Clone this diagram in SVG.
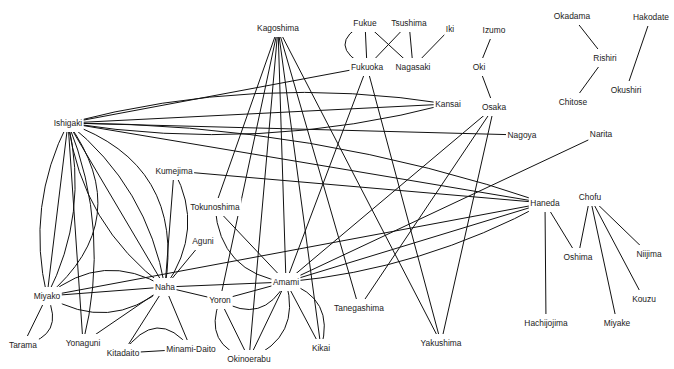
<svg xmlns="http://www.w3.org/2000/svg" width="674" height="369" viewBox="0 0 674 369">
<style>
.e{fill:none;stroke:#111;stroke-width:1}
.b{fill:#fff}
.t{font-family:"Liberation Sans",Arial,sans-serif;font-size:8.4px;fill:#222;text-anchor:middle}
</style>
<rect width="674" height="369" fill="#fff"/>
<g id="edges">
<path class="e" d="M365 23 L367 67"/>
<path class="e" d="M365 23 Q324 45 367 67"/>
<path class="e" d="M365 23 L413 67"/>
<path class="e" d="M409 23 L367 67"/>
<path class="e" d="M409 23 L413 67"/>
<path class="e" d="M450 29 L413 67"/>
<path class="e" d="M494 30 L479 67"/>
<path class="e" d="M479 67 L494 107"/>
<path class="e" d="M572 16 L605 58"/>
<path class="e" d="M605 58 L573 102"/>
<path class="e" d="M651 17 L626 90"/>
<path class="e" d="M68 123 L367 67"/>
<path class="e" d="M68 123 L448 104"/>
<path class="e" d="M68 123 Q256 73.5 448 104"/>
<path class="e" d="M68 123 Q260 153.5 448 104"/>
<path class="e" d="M68 123 L522 135"/>
<path class="e" d="M68 123 L545 203"/>
<path class="e" d="M68 123 Q313 123.6 545 203"/>
<path class="e" d="M174 171 L545 203"/>
<path class="e" d="M174 171 L165 287"/>
<path class="e" d="M174 171 Q205.5 229 165 287"/>
<path class="e" d="M47 296 L545 203"/>
<path class="e" d="M286 282 L545 203"/>
<path class="e" d="M286 282 Q423.7 269.3 545 203"/>
<path class="e" d="M601 134 L286 282"/>
<path class="e" d="M494 107 L286 282"/>
<path class="e" d="M494 107 L359 308"/>
<path class="e" d="M494 107 L441 343"/>
<path class="e" d="M367 67 L286 282"/>
<path class="e" d="M367 67 L441 343"/>
<path class="e" d="M278 28 L215 207"/>
<path class="e" d="M278 28 L220 300"/>
<path class="e" d="M278 28 L249 359"/>
<path class="e" d="M278 28 L286 282"/>
<path class="e" d="M278 28 L321 348"/>
<path class="e" d="M278 28 L359 308"/>
<path class="e" d="M278 28 L441 343"/>
<path class="e" d="M215 207 L286 282"/>
<path class="e" d="M215 207 Q220 273.4 286 282"/>
<path class="e" d="M203 241 L165 287"/>
<path class="e" d="M165 287 L286 282"/>
<path class="e" d="M165 287 L220 300"/>
<path class="e" d="M165 287 L83 343"/>
<path class="e" d="M165 287 L123 353"/>
<path class="e" d="M165 287 L191 349"/>
<path class="e" d="M123 353 L191 349"/>
<path class="e" d="M123 353 Q157 305 191 349"/>
<path class="e" d="M47 296 L165 287"/>
<path class="e" d="M47 296 Q102.8 249.6 165 287"/>
<path class="e" d="M47 296 Q109.2 333.4 165 287"/>
<path class="e" d="M47 296 L23 345"/>
<path class="e" d="M47 296 Q65.5 335.5 23 345"/>
<path class="e" d="M68 123 L47 296"/>
<path class="e" d="M68 123 Q25.7 205.6 47 296"/>
<path class="e" d="M68 123 Q89.3 213.4 47 296"/>
<path class="e" d="M68 123 Q136.9 219.1 47 296"/>
<path class="e" d="M68 123 L83 343"/>
<path class="e" d="M68 123 Q111.4 230.6 83 343"/>
<path class="e" d="M68 123 L165 287"/>
<path class="e" d="M68 123 Q82.1 225.4 165 287"/>
<path class="e" d="M68 123 Q147.5 186.7 165 287"/>
<path class="e" d="M68 123 Q185.4 164.3 165 287"/>
<path class="e" d="M220 300 L286 282"/>
<path class="e" d="M220 300 Q262.5 325.7 286 282"/>
<path class="e" d="M220 300 L249 359"/>
<path class="e" d="M220 300 Q202.2 345.4 249 359"/>
<path class="e" d="M286 282 L249 359"/>
<path class="e" d="M286 282 Q301.7 337 249 359"/>
<path class="e" d="M286 282 L321 348"/>
<path class="e" d="M286 282 Q335.6 298 321 348"/>
<path class="e" d="M545 203 L578 257"/>
<path class="e" d="M545 203 L546 323"/>
<path class="e" d="M590 197 L578 257"/>
<path class="e" d="M590 197 L617 323"/>
<path class="e" d="M590 197 L644 299"/>
<path class="e" d="M590 197 L649 254"/>
</g>
<g id="n-Kagoshima"><rect class="b" x="256.5" y="19" width="45" height="18"/><text class="t" x="278" y="31">Kagoshima</text></g>
<g id="n-Fukue"><rect class="b" x="351.9" y="14" width="26.3" height="18"/><text class="t" x="365" y="26">Fukue</text></g>
<g id="n-Tsushima"><rect class="b" x="389.3" y="14" width="39.4" height="18"/><text class="t" x="409" y="26">Tsushima</text></g>
<g id="n-Iki"><rect class="b" x="444.3" y="20" width="11.4" height="18"/><text class="t" x="450" y="32">Iki</text></g>
<g id="n-Izumo"><rect class="b" x="481" y="21" width="26" height="18"/><text class="t" x="494" y="33">Izumo</text></g>
<g id="n-Okadama"><rect class="b" x="552.3" y="7" width="39.4" height="18"/><text class="t" x="572" y="19">Okadama</text></g>
<g id="n-Hakodate"><rect class="b" x="631.5" y="8" width="39" height="18"/><text class="t" x="651" y="20">Hakodate</text></g>
<g id="n-Fukuoka"><rect class="b" x="349.4" y="58" width="35.2" height="18"/><text class="t" x="367" y="70">Fukuoka</text></g>
<g id="n-Nagasaki"><rect class="b" x="394" y="58" width="38" height="18"/><text class="t" x="413" y="70">Nagasaki</text></g>
<g id="n-Oki"><rect class="b" x="471.2" y="58" width="15.6" height="18"/><text class="t" x="479" y="70">Oki</text></g>
<g id="n-Rishiri"><rect class="b" x="591.9" y="49" width="26.3" height="18"/><text class="t" x="605" y="61">Rishiri</text></g>
<g id="n-Kansai"><rect class="b" x="433.6" y="95" width="28.7" height="18"/><text class="t" x="448" y="107">Kansai</text></g>
<g id="n-Osaka"><rect class="b" x="480.3" y="98" width="27.3" height="18"/><text class="t" x="494" y="110">Osaka</text></g>
<g id="n-Chitose"><rect class="b" x="557.2" y="93" width="31.5" height="18"/><text class="t" x="573" y="105">Chitose</text></g>
<g id="n-Okushiri"><rect class="b" x="609.1" y="81" width="33.8" height="18"/><text class="t" x="626" y="93">Okushiri</text></g>
<g id="n-Ishigaki"><rect class="b" x="52.2" y="114" width="31.5" height="18"/><text class="t" x="68" y="126">Ishigaki</text></g>
<g id="n-Nagoya"><rect class="b" x="506" y="126" width="31.9" height="18"/><text class="t" x="522" y="138">Nagoya</text></g>
<g id="n-Narita"><rect class="b" x="588.3" y="125" width="25.4" height="18"/><text class="t" x="601" y="137">Narita</text></g>
<g id="n-Kumejima"><rect class="b" x="153.8" y="162" width="40.3" height="18"/><text class="t" x="174" y="174">Kumejima</text></g>
<g id="n-Haneda"><rect class="b" x="528.8" y="194" width="32.4" height="18"/><text class="t" x="545" y="206">Haneda</text></g>
<g id="n-Chofu"><rect class="b" x="577.3" y="188" width="25.4" height="18"/><text class="t" x="590" y="200">Chofu</text></g>
<g id="n-Tokunoshima"><rect class="b" x="188.5" y="198" width="52.9" height="18"/><text class="t" x="215" y="210">Tokunoshima</text></g>
<g id="n-Aguni"><rect class="b" x="190.7" y="232" width="24.5" height="18"/><text class="t" x="203" y="244">Aguni</text></g>
<g id="n-Oshima"><rect class="b" x="562" y="248" width="31.9" height="18"/><text class="t" x="578" y="260">Oshima</text></g>
<g id="n-Niijima"><rect class="b" x="634.9" y="245" width="28.2" height="18"/><text class="t" x="649" y="257">Niijima</text></g>
<g id="n-Naha"><rect class="b" x="153.4" y="278" width="23.1" height="18"/><text class="t" x="165" y="290">Naha</text></g>
<g id="n-Amami"><rect class="b" x="271.4" y="273" width="29.1" height="18"/><text class="t" x="286" y="285">Amami</text></g>
<g id="n-Miyako"><rect class="b" x="32.2" y="287" width="29.6" height="18"/><text class="t" x="47" y="299">Miyako</text></g>
<g id="n-Yoron"><rect class="b" x="207.3" y="291" width="25.4" height="18"/><text class="t" x="220" y="303">Yoron</text></g>
<g id="n-Kouzu"><rect class="b" x="630.6" y="290" width="26.8" height="18"/><text class="t" x="644" y="302">Kouzu</text></g>
<g id="n-Tanegashima"><rect class="b" x="332" y="299" width="53.9" height="18"/><text class="t" x="359" y="311">Tanegashima</text></g>
<g id="n-Hachijojima"><rect class="b" x="522.8" y="314" width="46.4" height="18"/><text class="t" x="546" y="326">Hachijojima</text></g>
<g id="n-Miyake"><rect class="b" x="602.2" y="314" width="29.6" height="18"/><text class="t" x="617" y="326">Miyake</text></g>
<g id="n-Yakushima"><rect class="b" x="418.7" y="334" width="44.5" height="18"/><text class="t" x="441" y="346">Yakushima</text></g>
<g id="n-Tarama"><rect class="b" x="7" y="336" width="31.9" height="18"/><text class="t" x="23" y="348">Tarama</text></g>
<g id="n-Yonaguni"><rect class="b" x="63.7" y="334" width="38.5" height="18"/><text class="t" x="83" y="346">Yonaguni</text></g>
<g id="n-Kitadaito"><rect class="b" x="105.1" y="344" width="35.7" height="18"/><text class="t" x="123" y="356">Kitadaito</text></g>
<g id="n-Minami-Daito"><rect class="b" x="164.7" y="340" width="52.5" height="18"/><text class="t" x="191" y="352">Minami-Daito</text></g>
<g id="n-Okinoerabu"><rect class="b" x="225.8" y="350" width="46.4" height="18"/><text class="t" x="249" y="362">Okinoerabu</text></g>
<g id="n-Kikai"><rect class="b" x="310.4" y="339" width="21.2" height="18"/><text class="t" x="321" y="351">Kikai</text></g>
</svg>
